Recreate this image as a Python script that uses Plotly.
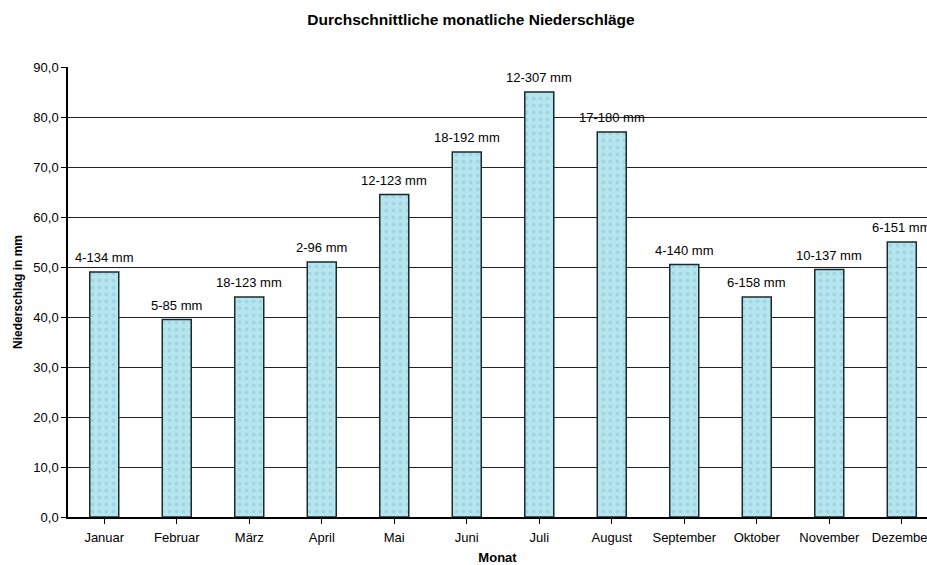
import plotly.graph_objects as go

months = ["Januar", "Februar", "März", "April", "Mai", "Juni", "Juli",
          "August", "September", "Oktober", "November", "Dezember"]
precip = [49.0, 39.5, 44.0, 51.0, 64.5, 73.0, 85.0, 77.0, 50.5, 44.0, 49.5, 55.0]
labels = ["4-134 mm", "5-85 mm", "18-123 mm", "2-96 mm", "12-123 mm", "18-192 mm",
          "12-307 mm", "17-180 mm", "4-140 mm", "6-158 mm", "10-137 mm", "6-151 mm"]
y_ticks = [0, 10, 20, 30, 40, 50, 60, 70, 80, 90]

FONT = "Liberation Sans, Arial, Helvetica, sans-serif"

xs = list(range(len(months)))

fig = go.Figure()
fig.add_trace(go.Bar(
    x=xs,
    y=precip,
    width=0.4,
    cliponaxis=False,
    marker=dict(
        color="#aee0ea",
        line=dict(color="#1a2a2e", width=1.5),
        pattern=dict(shape=".", fgcolor="#86c8da", bgcolor="#b6e5ee",
                     size=7, solidity=0.25, fillmode="overlay"),
    ),
    hoverinfo="skip",
))

for xi, yi, lab in zip(xs, precip, labels):
    fig.add_annotation(x=xi, y=yi, xref="x", yref="y", text=lab,
                       showarrow=False, yanchor="bottom", xanchor="center",
                       yshift=5,
                       font=dict(family=FONT, size=13, color="#000000"))

fig.update_layout(
    width=927, height=565,
    margin=dict(l=68, r=0, t=67, b=48),
    paper_bgcolor="white",
    plot_bgcolor="white",
    separators=",.",
    showlegend=False,
    font=dict(family=FONT, size=13, color="#000000"),
    title=dict(text="<b>Durchschnittliche monatliche Niederschläge</b>",
               x=471 / 927, xanchor="center", xref="container",
               y=1 - 20 / 565, yanchor="middle", yref="container",
               font=dict(family=FONT, size=15.5, color="#000000")),
    bargap=0.5,
)

fig.update_xaxes(
    range=[-0.5, 11.348],
    tickmode="array",
    tickvals=xs,
    ticktext=months,
    tickson="boundaries",
    ticklabeloverflow="allow",
    ticklabelstandoff=3,
    ticks="outside", ticklen=5, tickcolor="#000000", tickwidth=1,
    showline=True, linecolor="#000000", linewidth=1.5,
    showgrid=False, zeroline=False,
    automargin=False,
    tickfont=dict(family=FONT, size=13, color="#000000"),
    title=dict(text="<b>Monat</b>", standoff=11,
               font=dict(family=FONT, size=13, color="#000000")),
)

fig.update_yaxes(
    range=[0, 90],
    tickmode="array",
    tickvals=y_ticks,
    tickformat=".1f",
    ticks="outside", ticklen=5, tickcolor="#000000", tickwidth=1,
    showline=True, linecolor="#000000", linewidth=1.5,
    showgrid=True, gridcolor="#222222", gridwidth=1,
    zeroline=False,
    automargin=False,
    tickfont=dict(family=FONT, size=13, color="#000000"),
    title=dict(text="<b>Niederschlag in mm</b>", standoff=8,
               font=dict(family=FONT, size=12, color="#000000")),
)

fig.write_html("out.html")
